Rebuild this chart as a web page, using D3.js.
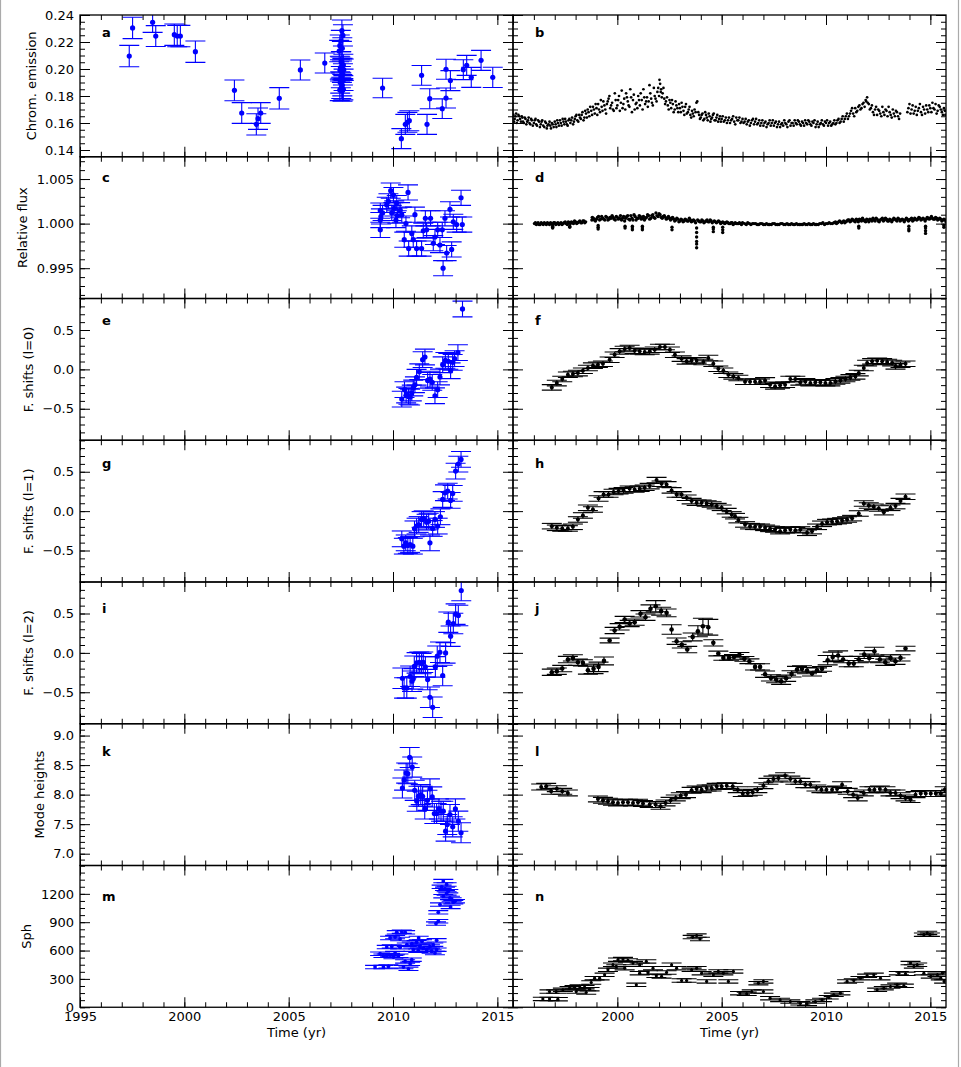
<!DOCTYPE html>
<html>
<head>
<meta charset="utf-8">
<script src="https://cdn.jsdelivr.net/npm/d3@7"></script>
<style>
  body { margin: 0; background: #fff; }
  svg { display: block; font-family: "DejaVu Sans", sans-serif; }
</style>
</head>
<body>
<svg id="chart" width="961" height="1067"></svg>
<script>
// ---- data ----
// left column (blue): [year, value, error]
var chromA = [
  [1997.36,0.2096,0.0079],[1997.52,0.2304,0.0079],[1998.48,0.2346,0.0075],[1998.63,0.2244,0.0077],
  [1999.52,0.2254,0.0079],[1999.66,0.2244,0.0079],[1999.81,0.2244,0.0079],[2000.53,0.2128,0.0079],
  [2002.40,0.1842,0.0077],[2002.75,0.1674,0.0077],[2003.45,0.1590,0.0079],[2003.53,0.1632,0.0079],
  [2003.66,0.1674,0.0077],[2004.55,0.1783,0.0079],[2005.56,0.1993,0.0074],[2006.73,0.2044,0.0074],
  [2007.55,0.2284,0.0079],[2007.60,0.2249,0.0079],[2007.50,0.2207,0.0079],[2007.45,0.2173,0.0079],
  [2007.57,0.2153,0.0079],[2007.42,0.2133,0.0079],[2007.52,0.2050,0.0079],[2007.62,0.2030,0.0079],
  [2007.48,0.2010,0.0079],[2007.58,0.2000,0.0079],[2007.64,0.1995,0.0079],[2007.46,0.1990,0.0079],
  [2007.55,0.1980,0.0079],[2007.60,0.1960,0.0079],[2007.50,0.1940,0.0079],[2007.63,0.1920,0.0079],
  [2007.47,0.1900,0.0079],[2007.57,0.1880,0.0079],[2007.52,0.1860,0.0079],[2007.62,0.1850,0.0079],
  [2007.45,0.1845,0.0079],[2007.58,0.1840,0.0079],
  [2009.50,0.1859,0.0072],[2010.40,0.1484,0.0074],[2010.59,0.1590,0.0074],[2010.69,0.1605,0.0074],
  [2010.78,0.1617,0.0074],[2011.37,0.1953,0.0073],[2011.63,0.1590,0.0074],[2011.76,0.1780,0.0074],
  [2012.36,0.1706,0.0073],[2012.54,0.1998,0.0074],[2012.54,0.1785,0.0074],[2012.75,0.1914,0.0074],
  [2013.37,0.1995,0.0074],[2013.53,0.2027,0.0074],[2013.75,0.1938,0.0074],[2014.22,0.2064,0.0074],
  [2014.78,0.1938,0.0075]
]

var fluxCErr = 0.00085
var fluxC = [
  [2009.39,1.00146],[2009.39,1.0004],[2009.39,0.9993],[2009.42,1.0008],[2009.50,1.0012],
  [2009.70,1.0021],[2009.78,1.0025],[2009.89,1.0037],[2009.94,1.0012],[2010.02,1.0032],
  [2010.06,1.0017],[2010.14,1.0004],[2010.18,1.0023],[2010.21,1.0009],[2010.34,1.0015],
  [2010.42,1.0010],[2010.54,0.9982],[2010.62,1.0000],[2010.72,1.0035],[2010.75,0.9972],
  [2010.90,0.9989],[2010.97,0.9982],[2011.05,1.0010],[2011.13,0.9972],[2011.37,0.9972],
  [2011.45,0.9992],[2011.55,1.0006],[2011.61,0.9993],[2011.80,1.0006],[2011.93,0.9978],
  [2012.01,0.9985],[2012.14,0.9993],[2012.25,0.9976],[2012.36,0.9993],[2012.40,0.9950],
  [2012.49,1.0006],[2012.57,0.9967],[2012.73,1.0016],[2012.81,0.9971],[2012.89,1.0002],
  [2013.05,0.9999],[2013.26,1.0029],[2013.32,0.9999]
]

var shift0EErr = 0.1
var shift0E = [
  [2013.33,0.767],[2010.42,-0.377],[2010.55,-0.258],[2010.63,-0.326],[2010.74,-0.343],
  [2010.82,-0.352],[2010.90,-0.300],[2010.97,-0.237],[2011.05,-0.195],[2011.13,-0.100],
  [2011.26,-0.030],[2011.42,0.123],[2011.53,0.157],[2011.66,-0.140],[2011.77,-0.123],
  [2011.88,-0.165],[2012.01,-0.335],[2012.14,-0.258],[2012.25,-0.097],[2012.38,0.059],
  [2012.51,0.114],[2012.65,0.102],[2012.76,-0.017],[2012.86,0.089],[2012.95,0.136],
  [2013.11,0.212]
]

var shift1GErr = 0.1
var shift1G = [
  [2010.42,-0.352],[2010.52,-0.445],[2010.61,-0.403],[2010.71,-0.436],[2010.82,-0.424],
  [2010.95,-0.445],[2011.03,-0.225],[2011.13,-0.190],[2011.23,-0.170],[2011.37,-0.106],
  [2011.47,-0.097],[2011.61,-0.140],[2011.71,-0.127],[2011.77,-0.403],[2011.90,-0.220],
  [2012.01,-0.106],[2012.14,-0.190],[2012.27,-0.072],[2012.38,0.148],[2012.49,0.233],
  [2012.62,0.254],[2012.76,0.136],[2012.86,0.225],[2013.00,0.508],[2013.13,0.597],
  [2013.26,0.657]
]

var shift2IErr = 0.13
var shift2I = [
  [2010.45,-0.322],[2010.53,-0.445],[2010.66,-0.445],[2010.82,-0.297],[2010.91,-0.360],
  [2010.97,-0.330],[2011.02,-0.170],[2011.13,-0.127],[2011.26,-0.119],[2011.37,-0.136],
  [2011.45,-0.119],[2011.55,-0.178],[2011.66,-0.339],[2011.77,-0.564],[2011.90,-0.691],
  [2012.03,-0.178],[2012.12,-0.042],[2012.25,0.008],[2012.38,-0.288],[2012.52,0.000],
  [2012.65,0.390],[2012.76,0.212],[2012.89,0.373],[2013.00,0.492],[2013.13,0.475],
  [2013.27,0.792]
]

var heightKErr = 0.17
var heightK = [
  [2010.45,8.112],[2010.53,8.247],[2010.63,8.365],[2010.71,8.354],[2010.80,8.629],
  [2010.92,8.466],[2011.04,8.073],[2011.14,7.888],[2011.22,7.972],[2011.33,8.000],
  [2011.42,7.972],[2011.52,7.758],[2011.65,7.904],[2011.77,8.096],[2011.88,7.961],
  [2011.98,7.680],[2012.09,7.680],[2012.20,7.758],[2012.30,7.719],[2012.41,7.719],
  [2012.52,7.382],[2012.60,7.494],[2012.73,7.663],[2012.86,7.455],[2012.99,7.758],
  [2013.13,7.551],[2013.26,7.354]
]

var sphMErr = 18
var sphM = [
  [2009.14,425],[2009.54,425],[2009.78,432],[2009.38,566],[2009.54,545],[2009.70,545],
  [2009.86,552],[2010.02,531],[2010.10,573],[2010.26,545],[2009.70,637],[2009.94,644],
  [2010.34,634],[2009.86,733],[2010.10,743],[2010.34,722],[2010.18,793],[2010.42,800],
  [2010.58,793],[2010.50,425],[2010.74,407],[2010.82,460],[2010.90,503],[2010.58,485],
  [2010.66,662],[2010.90,673],[2011.13,687],[2011.29,644],[2010.97,609],[2011.21,598],
  [2011.45,627],[2011.23,733],[2011.39,697],[2011.61,609],[2011.77,644],[2011.93,662],
  [2011.85,591],[2012.01,573],[2012.09,708],[2012.09,609],[2012.06,885],[2012.17,910],
  [2012.17,1005],[2012.25,1087],[2012.41,1175],[2012.33,1274],[2012.41,1335],[2012.57,1299],
  [2012.65,1228],[2012.73,1157],[2012.81,1140],[2012.89,1112],[2012.97,1122],[2012.76,1062],
  [2012.49,1253],[2012.57,1204]
]

// right column (black): [year, value] clouds, then [year, value] binned series
var chromB = [
  [1995.02,.166],[1995.08,.163],[1995.15,.167],[1995.22,.162],[1995.30,.165],[1995.38,.161],
  [1995.45,.164],[1995.52,.160],[1995.60,.163],[1995.68,.161],[1995.75,.164],[1995.83,.159],
  [1995.90,.162],[1996.00,.160],[1996.08,.163],[1996.15,.158],[1996.25,.161],[1996.33,.159],
  [1996.40,.162],[1996.50,.157],[1996.58,.160],[1996.65,.158],[1996.75,.161],[1996.82,.156],
  [1996.90,.159],[1997.00,.161],[1997.08,.157],[1997.15,.160],[1997.25,.162],[1997.33,.158],
  [1997.42,.161],[1997.50,.163],[1997.58,.159],[1997.66,.162],[1997.75,.160],[1997.83,.164],
  [1997.92,.161],[1998.00,.165],[1998.08,.162],[1998.17,.166],[1998.25,.163],[1998.33,.168],
  [1998.42,.164],[1998.50,.167],[1998.58,.170],[1998.66,.165],[1998.75,.169],[1998.83,.172],
  [1998.92,.167],[1999.00,.171],[1999.08,.174],[1999.17,.168],[1999.25,.172],[1999.33,.176],
  [1999.42,.170],[1999.50,.174],[1999.58,.178],[1999.66,.171],[1999.75,.175],[1999.83,.169],
  [1999.92,.177],[2000.00,.173],[2000.08,.180],[2000.17,.175],[2000.25,.171],[2000.33,.178],
  [2000.42,.182],[2000.50,.176],[2000.58,.172],[2000.66,.179],[2000.75,.177],[2000.83,.170],
  [2000.92,.175],[2001.00,.180],[2001.08,.173],[2001.17,.177],[2001.25,.185],[2001.33,.174],
  [2001.42,.179],[2001.50,.176],[2001.58,.182],[2001.66,.175],[2001.75,.186],[2001.83,.178],
  [2001.92,.183],[2002.00,.180],[2002.05,.189],[2002.10,.185],[2002.17,.182],[2002.25,.178],
  [2002.33,.176],[2002.42,.173],[2002.50,.177],[2002.58,.171],[2002.66,.174],[2002.75,.170],
  [2002.83,.173],[2002.92,.168],[2003.00,.171],[2003.08,.175],[2003.17,.169],[2003.25,.172],
  [2003.33,.167],[2003.42,.170],[2003.50,.166],[2003.58,.169],[2003.66,.165],[2003.75,.168],
  [2003.83,.176],[2003.92,.166],[2004.00,.164],[2004.08,.167],[2004.17,.163],[2004.25,.166],
  [2004.33,.162],[2004.42,.165],[2004.50,.163],[2004.58,.166],[2004.66,.162],[2004.75,.164],
  [2004.83,.161],[2004.92,.165],[2005.00,.163],[2005.10,.161],[2005.20,.164],[2005.30,.162],
  [2005.40,.160],[2005.50,.163],[2005.60,.161],[2005.70,.164],[2005.80,.162],[2005.90,.160],
  [2006.00,.163],[2006.10,.161],[2006.20,.159],[2006.30,.162],[2006.40,.160],[2006.50,.163],
  [2006.60,.161],[2006.70,.159],[2006.80,.162],[2006.90,.160],[2007.00,.158],[2007.10,.161],
  [2007.20,.159],[2007.30,.162],[2007.40,.160],[2007.50,.158],[2007.60,.161],[2007.70,.159],
  [2007.80,.157],[2007.90,.160],[2008.00,.162],[2008.10,.159],[2008.20,.161],[2008.30,.158],
  [2008.40,.160],[2008.50,.162],[2008.60,.159],[2008.70,.161],[2008.80,.158],[2008.90,.160],
  [2009.00,.162],[2009.10,.159],[2009.20,.161],[2009.30,.158],[2009.40,.160],[2009.50,.157],
  [2009.60,.161],[2009.70,.159],[2009.80,.162],[2009.90,.158],[2010.00,.160],[2010.10,.158],
  [2010.20,.161],[2010.30,.159],[2010.40,.162],[2010.50,.160],[2010.60,.163],[2010.70,.161],
  [2010.80,.165],[2010.90,.163],[2011.00,.167],[2011.10,.165],[2011.20,.169],[2011.30,.167],
  [2011.40,.171],[2011.50,.169],[2011.60,.173],[2011.70,.171],[2011.80,.175],[2011.90,.177],
  [2011.97,.179],[2012.05,.174],[2012.15,.171],[2012.25,.168],[2012.35,.170],[2012.45,.166],
  [2012.55,.169],[2012.65,.165],[2012.75,.168],[2012.85,.170],[2012.95,.165],[2013.05,.168],
  [2013.15,.164],[2013.25,.167],[2013.35,.169],[2013.45,.165],[2013.55,.167],[2013.95,.171],
  [2014.05,.167],[2014.15,.173],[2014.25,.169],[2014.35,.166],[2014.45,.171],[2014.55,.168],
  [2014.65,.172],[2014.75,.167],[2014.85,.170],[2014.95,.173],[2015.05,.168],[2015.15,.171],
  [2015.25,.174],[2015.35,.169],[2015.45,.172],[2015.55,.168],[2015.65,.171],[2015.72,.166],
  [2015.78,.163]
]
var chromB2 = [
  [1995.05,.161],[1995.12,.165],[1995.18,.160],[1995.26,.166],[1995.34,.163],[1995.42,.165],
  [1995.48,.161],[1995.56,.164],[1995.64,.159],[1995.72,.162],[1995.79,.160],[1995.87,.163],
  [1995.95,.158],[1996.04,.162],[1996.11,.159],[1996.20,.162],[1996.29,.157],[1996.37,.161],
  [1996.45,.158],[1996.54,.161],[1996.62,.156],[1996.70,.159],[1996.79,.158],[1996.86,.160],
  [1996.95,.157],[1997.04,.159],[1997.12,.162],[1997.20,.158],[1997.29,.160],[1997.38,.163],
  [1997.46,.159],[1997.54,.161],[1997.62,.158],[1997.70,.163],[1997.79,.162],[1997.88,.159],
  [1997.96,.163],[1998.04,.166],[1998.13,.161],[1998.21,.164],[1998.29,.166],[1998.38,.162],
  [1998.46,.169],[1998.54,.164],[1998.62,.168],[1998.70,.172],[1998.79,.166],[1998.88,.170],
  [1998.96,.174],[1999.04,.166],[1999.12,.170],[1999.21,.177],[1999.29,.169],[1999.38,.173],
  [1999.46,.167],[1999.54,.176],[1999.62,.180],[1999.70,.173],[1999.79,.170],[1999.88,.182],
  [1999.96,.171],[2000.04,.177],[2000.12,.169],[2000.21,.184],[2000.29,.174],[2000.38,.170],
  [2000.46,.179],[2000.54,.173],[2000.62,.185],[2000.70,.168],[2000.79,.181],[2000.88,.174],
  [2000.96,.171],[2001.04,.177],[2001.12,.182],[2001.21,.170],[2001.29,.179],[2001.38,.176],
  [2001.46,.172],[2001.54,.188],[2001.62,.178],[2001.70,.173],[2001.79,.180],[2001.88,.176],
  [2001.96,.186],[2002.02,.192],[2002.08,.183],[2002.13,.179],[2002.21,.186],[2002.29,.174],
  [2002.38,.179],[2002.46,.170],[2002.54,.175],[2002.62,.177],[2002.70,.168],[2002.79,.176],
  [2002.88,.171],[2002.96,.174],[2003.04,.168],[2003.12,.172],[2003.21,.166],[2003.29,.174],
  [2003.38,.168],[2003.46,.172],[2003.54,.164],[2003.62,.167],[2003.70,.170],[2003.79,.175],
  [2003.88,.168],[2003.96,.163],[2004.04,.166],[2004.12,.162],[2004.21,.168],[2004.29,.164],
  [2004.38,.167],[2004.46,.161],[2004.54,.164],[2004.62,.167],[2004.71,.162],[2004.79,.166],
  [2004.88,.163],[2004.96,.161],[2005.05,.165],[2005.15,.162],[2005.25,.160],[2005.35,.164],
  [2005.45,.162],[2005.55,.165],[2005.65,.159],[2005.75,.162],[2005.85,.164],[2005.95,.161],
  [2006.05,.160],[2006.15,.163],[2006.25,.161],[2006.35,.158],[2006.45,.162],[2006.55,.159],
  [2006.65,.163],[2006.75,.160],[2006.85,.158],[2006.95,.162],[2007.05,.160],[2007.15,.157],
  [2007.25,.160],[2007.35,.158],[2007.45,.162],[2007.55,.160],[2007.65,.157],[2007.75,.161],
  [2007.85,.159],[2007.95,.158],[2008.05,.160],[2008.15,.157],[2008.25,.162],[2008.35,.160],
  [2008.45,.158],[2008.55,.160],[2008.65,.162],[2008.75,.159],[2008.85,.161],[2008.95,.158],
  [2009.05,.160],[2009.15,.162],[2009.25,.159],[2009.35,.161],[2009.45,.162],[2009.55,.159],
  [2009.65,.157],[2009.75,.160],[2009.85,.159],[2009.95,.161],[2010.05,.162],[2010.15,.160],
  [2010.25,.158],[2010.35,.160],[2010.45,.159],[2010.55,.162],[2010.65,.160],[2010.75,.163],
  [2010.85,.161],[2010.95,.165],[2011.05,.163],[2011.15,.167],[2011.25,.171],[2011.35,.165],
  [2011.45,.168],[2011.55,.172],[2011.65,.170],[2011.75,.174],[2011.85,.172],[2011.93,.176],
  [2012.00,.175],[2012.10,.170],[2012.20,.173],[2012.30,.166],[2012.40,.172],[2012.50,.170],
  [2012.60,.167],[2012.70,.172],[2012.80,.166],[2012.90,.169],[2013.00,.172],[2013.10,.166],
  [2013.20,.170],[2013.30,.165],[2013.40,.168],[2013.50,.163],[2013.90,.168],[2014.00,.174],
  [2014.10,.170],[2014.20,.167],[2014.30,.172],[2014.40,.169],[2014.50,.174],[2014.60,.166],
  [2014.70,.170],[2014.80,.173],[2014.90,.168],[2015.00,.171],[2015.10,.175],[2015.20,.170],
  [2015.30,.167],[2015.40,.173],[2015.50,.170],[2015.60,.166],[2015.70,.169]
]

var fluxD = [
  [1996.03,1.0000],[1996.12,0.9999],[1996.20,1.0001],[1996.30,0.9999],[1996.40,1.0000],[1996.50,1.0001],
  [1996.60,0.9999],[1996.70,1.0000],[1996.80,1.0001],[1996.90,0.9999],[1996.90,0.9996],[1997.00,1.0001],
  [1997.10,1.0000],[1997.20,0.9999],[1997.30,1.0001],[1997.40,1.0000],[1997.50,1.0002],[1997.60,0.9999],
  [1997.70,1.0001],[1997.72,0.9996],[1997.80,1.0002],[1997.90,1.0000],[1998.00,1.0002],[1998.10,1.0001],
  [1998.20,1.0003],[1998.30,1.0001],[1998.40,1.0003],[1998.48,1.0002],
  [1998.78,1.0004],[1998.85,1.0006],[1998.95,1.0003],[1999.05,1.0007],[1999.08,0.9996],[1999.15,1.0004],
  [1999.25,1.0008],[1999.35,1.0005],[1999.45,1.0008],[1999.55,1.0004],[1999.65,1.0007],[1999.75,1.0009],
  [1999.85,1.0005],[1999.95,1.0008],[2000.05,1.0005],[2000.15,1.0009],[2000.25,1.0006],[2000.35,1.0003],
  [2000.37,0.9995],[2000.45,1.0008],[2000.55,1.0005],[2000.65,1.0009],[2000.72,0.9993],[2000.75,1.0004],
  [2000.85,1.0008],[2000.95,1.0006],[2001.05,1.0009],[2001.15,1.0005],[2001.20,0.9993],[2001.25,1.0008],
  [2001.35,1.0006],[2001.45,1.0010],[2001.55,1.0005],[2001.65,1.0009],[2001.75,1.0007],[2001.85,1.0012],
  [2001.95,1.0008],[2002.05,1.0010],[2002.15,1.0006],[2002.25,1.0009],[2002.35,1.0005],[2002.45,1.0008],
  [2002.55,1.0004],[2002.62,0.9993],[2002.65,1.0007],[2002.75,1.0003],[2002.85,1.0006],[2002.95,1.0002],
  [2003.05,1.0005],[2003.15,1.0002],[2003.25,1.0005],[2003.35,1.0003],[2003.45,1.0006],[2003.55,1.0002],
  [2003.65,1.0004],[2003.80,0.9990],[2003.80,0.9980],[2003.80,0.9973],[2003.80,0.9985],[2003.75,1.0001],
  [2003.85,1.0004],[2003.95,1.0002],[2004.05,1.0004],[2004.15,1.0001],[2004.25,1.0003],[2004.35,1.0002],
  [2004.45,1.0004],[2004.55,1.0001],[2004.60,0.9991],[2004.65,1.0003],[2004.75,1.0001],[2004.85,1.0003],
  [2004.95,1.0000],[2005.05,1.0002],[2005.05,0.9990],[2005.15,1.0000],[2005.25,1.0002],[2005.35,1.0000],
  [2005.45,1.0001],[2005.55,0.9999],[2005.65,1.0001],[2005.75,1.0000],[2005.85,1.0001],[2005.95,0.9999],
  [2006.10,1.0000],[2006.25,1.0001],[2006.40,0.9999],[2006.55,1.0000],[2006.70,0.9999],[2006.85,1.0000],
  [2007.00,0.9999],[2007.15,1.0000],[2007.30,0.9999],[2007.45,1.0000],[2007.60,0.9999],[2007.75,0.9999],
  [2007.90,1.0000],[2008.05,0.9999],[2008.20,0.9999],[2008.35,1.0000],[2008.50,0.9999],[2008.65,0.9999],
  [2008.80,0.9999],[2008.95,1.0000],[2009.10,0.9999],[2009.25,0.9999],[2009.40,1.0000],[2009.55,0.9999],
  [2009.70,1.0000],[2009.85,1.0001],[2010.00,1.0000],[2010.15,1.0001],[2010.30,1.0000],[2010.45,1.0002],
  [2010.55,1.0001],[2010.65,1.0003],[2010.75,1.0001],[2010.85,1.0003],[2010.95,1.0002],[2011.05,1.0004],
  [2011.15,1.0002],[2011.25,1.0005],[2011.35,1.0003],[2011.45,1.0005],[2011.55,1.0002],[2011.57,0.9995],
  [2011.65,1.0004],[2011.75,1.0006],[2011.85,1.0003],[2011.95,1.0005],[2012.05,1.0002],[2012.15,1.0004],
  [2012.25,1.0006],[2012.35,1.0003],[2012.45,1.0005],[2012.55,1.0002],[2012.65,1.0005],[2012.75,1.0003],
  [2012.85,1.0006],[2012.95,1.0003],[2013.05,1.0005],[2013.15,1.0002],[2013.25,1.0006],[2013.35,1.0004],
  [2013.45,1.0006],[2013.55,1.0003],[2013.65,1.0005],[2013.75,1.0002],[2013.85,1.0006],[2013.95,1.0003],
  [2013.97,0.9994],[2014.05,1.0005],[2014.15,1.0003],[2014.25,1.0006],[2014.35,1.0004],[2014.45,1.0007],
  [2014.55,1.0004],[2014.65,1.0006],[2014.75,1.0003],[2014.77,0.9989],[2014.77,0.9992],[2014.85,1.0007],
  [2014.95,1.0005],[2015.05,1.0008],[2015.15,1.0005],[2015.25,1.0007],[2015.35,1.0004],[2015.45,1.0006],
  [2015.55,1.0003],[2015.65,1.0005],[2015.65,0.9996],[2015.75,1.0002]
]
var fluxD2 = [
  [1996.07,1.0001],[1996.16,1.0000],[1996.25,0.9999],[1996.35,1.0001],[1996.45,0.9999],[1996.55,1.0000],
  [1996.65,1.0001],[1996.75,0.9999],[1996.85,1.0000],[1996.95,1.0001],[1997.05,0.9999],[1997.15,1.0001],
  [1997.25,1.0000],[1997.35,0.9999],[1997.45,1.0001],[1997.55,1.0000],[1997.65,1.0002],[1997.75,1.0000],
  [1997.85,1.0001],[1997.95,1.0003],[1998.05,1.0000],[1998.15,1.0002],[1998.25,1.0001],[1998.35,1.0003],
  [1998.44,1.0001],
  [1998.80,1.0007],[1998.90,1.0004],[1999.00,1.0005],[1999.10,1.0008],[1999.20,1.0005],[1999.30,1.0006],
  [1999.40,1.0004],[1999.50,1.0007],[1999.60,1.0005],[1999.70,1.0006],[1999.80,1.0007],[1999.90,1.0004],
  [2000.00,1.0007],[2000.10,1.0006],[2000.20,1.0004],[2000.30,1.0008],[2000.40,1.0006],[2000.50,1.0009],
  [2000.60,1.0004],[2000.70,1.0006],[2000.80,1.0010],[2000.90,1.0004],[2001.00,1.0006],[2001.10,1.0008],
  [2001.20,1.0006],[2001.30,1.0004],[2001.40,1.0007],[2001.50,1.0009],[2001.60,1.0006],[2001.70,1.0010],
  [2001.80,1.0006],[2001.90,1.0009],[2002.00,1.0011],[2002.10,1.0007],[2002.20,1.0008],[2002.30,1.0007],
  [2002.40,1.0006],[2002.50,1.0006],[2002.60,1.0006],[2002.70,1.0005],[2002.80,1.0004],[2002.90,1.0005],
  [2003.00,1.0003],[2003.10,1.0004],[2003.20,1.0003],[2003.30,1.0004],[2003.40,1.0003],[2003.50,1.0004],
  [2003.60,1.0003],[2003.70,1.0003],[2003.90,1.0003],[2004.00,1.0002],[2004.10,1.0003],[2004.20,1.0002],
  [2004.30,1.0004],[2004.40,1.0002],[2004.50,1.0003],[2004.70,1.0002],[2004.80,1.0002],[2004.90,1.0002],
  [2005.00,1.0001],[2005.10,1.0001],[2005.20,1.0001],[2005.30,1.0001],[2005.40,1.0000],[2005.50,1.0001],
  [2005.60,1.0000],[2005.70,1.0000],[2005.80,1.0000],[2005.90,1.0000],[2006.00,1.0001],[2006.18,0.9999],
  [2006.33,1.0000],[2006.48,1.0000],[2006.63,1.0000],[2006.78,0.9999],[2006.93,1.0000],[2007.08,0.9999],
  [2007.23,0.9999],[2007.38,0.9999],[2007.53,1.0000],[2007.68,0.9999],[2007.83,1.0000],[2007.98,0.9999],
  [2008.13,1.0000],[2008.28,0.9999],[2008.43,0.9999],[2008.58,1.0000],[2008.73,0.9999],[2008.88,0.9999],
  [2009.03,0.9999],[2009.18,1.0000],[2009.33,0.9999],[2009.48,0.9999],[2009.63,0.9999],[2009.78,1.0000],
  [2009.93,0.9999],[2010.08,1.0000],[2010.23,1.0000],[2010.38,1.0001],[2010.50,1.0000],[2010.60,1.0002],
  [2010.70,1.0002],[2010.80,1.0002],[2010.90,1.0001],[2011.00,1.0003],[2011.10,1.0004],[2011.20,1.0003],
  [2011.30,1.0004],[2011.40,1.0002],[2011.50,1.0004],[2011.60,1.0005],[2011.70,1.0003],[2011.80,1.0004],
  [2011.90,1.0002],[2012.00,1.0004],[2012.10,1.0005],[2012.20,1.0003],[2012.30,1.0004],[2012.40,1.0006],
  [2012.50,1.0003],[2012.60,1.0004],[2012.70,1.0006],[2012.80,1.0004],[2012.90,1.0005],[2013.00,1.0003],
  [2013.10,1.0004],[2013.20,1.0004],[2013.30,1.0005],[2013.40,1.0003],[2013.50,1.0005],[2013.60,1.0004],
  [2013.70,1.0004],[2013.80,1.0004],[2013.90,1.0005],[2014.00,1.0004],[2014.10,1.0006],[2014.20,1.0004],
  [2014.30,1.0005],[2014.40,1.0005],[2014.50,1.0006],[2014.60,1.0005],[2014.70,1.0005],[2014.80,1.0005],
  [2014.90,1.0006],[2015.00,1.0006],[2015.10,1.0006],[2015.20,1.0005],[2015.30,1.0006],[2015.40,1.0005],
  [2015.50,1.0005],[2015.60,1.0004],[2015.70,1.0004],
  // short dips below the band
  [1996.90,0.9997],[1996.90,0.9995],[1997.72,0.9997],[1999.08,0.9998],[1999.08,0.9994],[2000.37,0.9997],
  [2000.72,0.9997],[2000.72,0.9995],[2001.20,0.9997],[2001.20,0.9995],[2002.62,0.9996],[2003.80,0.9995],
  [2003.80,0.9977],[2004.60,0.9994],[2004.60,0.9996],[2005.05,0.9993],[2005.05,0.9996],[2011.57,0.9997],
  [2013.97,0.9997],[2013.97,0.9992],[2014.77,0.9995],[2014.77,0.9997],[2015.65,0.9998]
]

var shift0FErr = 0.035
var shift0F = [
  [1996.86,-0.229],[1997.10,-0.174],[1997.36,-0.123],[1997.63,-0.068],[1997.87,-0.059],[1998.11,-0.047],
  [1998.35,-0.017],[1998.59,0.017],[1998.83,0.047],[1999.07,0.059],[1999.31,0.072],[1999.63,0.123],
  [1999.87,0.186],[2000.11,0.229],[2000.35,0.258],[2000.59,0.271],[2000.83,0.237],[2001.07,0.229],
  [2001.31,0.220],[2001.55,0.229],[2001.79,0.250],[2002.04,0.284],[2002.28,0.284],[2002.52,0.250],
  [2002.76,0.186],[2003.08,0.136],[2003.32,0.102],[2003.56,0.114],[2003.80,0.114],[2004.12,0.093],
  [2004.36,0.144],[2004.60,0.072],[2004.84,0.008],[2005.08,-0.017],[2005.32,-0.068],[2005.56,-0.089],
  [2005.80,-0.110],[2006.12,-0.157],[2006.36,-0.157],[2006.60,-0.157],[2006.84,-0.157],[2007.08,-0.140],
  [2007.32,-0.195],[2007.56,-0.216],[2007.80,-0.203],[2008.04,-0.195],[2008.29,-0.123],[2008.53,-0.123],
  [2008.77,-0.165],[2009.01,-0.153],[2009.25,-0.174],[2009.49,-0.165],[2009.73,-0.165],[2009.97,-0.174],
  [2010.21,-0.174],[2010.45,-0.153],[2010.69,-0.140],[2010.93,-0.123],[2011.17,-0.102],[2011.41,-0.089],
  [2011.57,-0.047],[2011.81,0.017],[2011.97,0.080],[2012.21,0.102],[2012.45,0.110],[2012.69,0.102],
  [2012.93,0.093],[2013.17,0.080],[2013.33,0.038],[2013.57,0.059],[2013.81,0.072]
]

var shift1HErr = 0.035
var shift1H = [
  [1996.86,-0.191],[1997.10,-0.212],[1997.36,-0.220],[1997.63,-0.220],[1997.87,-0.199],[1998.11,-0.106],
  [1998.35,-0.055],[1998.59,0.042],[1998.83,0.021],[1999.10,0.161],[1999.34,0.212],[1999.58,0.212],
  [1999.82,0.242],[2000.06,0.254],[2000.30,0.263],[2000.59,0.284],[2000.83,0.275],[2001.07,0.284],
  [2001.31,0.297],[2001.55,0.318],[2001.88,0.394],[2002.12,0.347],[2002.36,0.339],[2002.60,0.263],
  [2002.84,0.212],[2003.08,0.212],[2003.32,0.169],[2003.56,0.127],[2003.80,0.106],[2004.04,0.106],
  [2004.28,0.097],[2004.52,0.085],[2004.76,0.064],[2005.00,0.042],[2005.24,0.000],[2005.48,-0.042],
  [2005.64,-0.064],[2005.80,-0.114],[2006.12,-0.169],[2006.36,-0.191],[2006.60,-0.199],[2006.84,-0.199],
  [2007.08,-0.212],[2007.32,-0.225],[2007.56,-0.233],[2007.80,-0.254],[2008.04,-0.242],[2008.29,-0.233],
  [2008.53,-0.242],[2008.77,-0.233],[2009.09,-0.275],[2009.33,-0.254],[2009.57,-0.199],[2009.81,-0.161],
  [2010.05,-0.140],[2010.29,-0.136],[2010.53,-0.127],[2010.77,-0.119],[2011.01,-0.106],[2011.25,-0.089],
  [2011.57,-0.030],[2011.81,0.097],[2012.05,0.072],[2012.29,0.055],[2012.53,0.034],[2012.77,-0.013],
  [2013.09,0.042],[2013.33,0.064],[2013.57,0.127],[2013.81,0.182]
]

var shift2J = [
  [1996.86,-0.246,0.04],[1997.10,-0.233,0.04],[1997.36,-0.199,0.04],[1997.63,-0.085,0.04],[1997.87,-0.064,0.04],
  [1998.11,-0.119,0.04],[1998.35,-0.127,0.04],[1998.59,-0.220,0.05],[1998.86,-0.203,0.06],[1999.10,-0.178,0.06],
  [1999.36,-0.102,0.05],[1999.63,0.157,0.03],[1999.87,0.284,0.04],[2000.11,0.331,0.04],[2000.35,0.424,0.04],
  [2000.59,0.373,0.04],[2000.83,0.390,0.04],[2001.11,0.496,0.04],[2001.35,0.453,0.04],[2001.59,0.559,0.05],
  [2001.84,0.593,0.07],[2002.10,0.530,0.05],[2002.36,0.508,0.05],[2002.60,0.297,0.06],[2002.84,0.148,0.04],
  [2003.09,0.102,0.04],[2003.35,0.042,0.04],[2003.61,0.203,0.05],[2003.86,0.275,0.07],[2004.10,0.339,0.1],
  [2004.36,0.326,0.1],[2004.60,0.127,0.04],[2004.84,-0.008,0.03],[2005.08,-0.064,0.03],[2005.35,-0.064,0.03],
  [2005.59,-0.051,0.03],[2005.85,-0.025,0.03],[2006.09,-0.076,0.03],[2006.33,-0.106,0.03],[2006.60,-0.178,0.04],
  [2006.84,-0.178,0.04],[2007.08,-0.271,0.04],[2007.36,-0.318,0.04],[2007.61,-0.339,0.04],[2007.85,-0.360,0.04],
  [2008.09,-0.322,0.04],[2008.35,-0.267,0.04],[2008.61,-0.212,0.04],[2008.85,-0.203,0.04],[2009.09,-0.225,0.04],
  [2009.33,-0.263,0.03],[2009.57,-0.220,0.03],[2009.81,-0.203,0.03],[2010.08,-0.093,0.06],[2010.32,-0.051,0.06],
  [2010.58,-0.034,0.06],[2010.82,-0.085,0.04],[2011.09,-0.136,0.04],[2011.33,-0.136,0.04],[2011.57,-0.085,0.04],
  [2011.83,-0.021,0.05],[2012.07,-0.064,0.05],[2012.32,0.021,0.05],[2012.58,-0.085,0.04],[2012.84,-0.119,0.04],
  [2013.09,-0.064,0.04],[2013.33,-0.106,0.04],[2013.57,-0.064,0.04],[2013.81,0.055,0.03]
]

var heightLErr = 0.05
var heightL = [
  [1996.35,8.129],[1996.59,8.140],[1996.83,8.056],[1997.10,8.101],[1997.36,8.056],[1997.63,8.028],
  [1999.07,7.927],[1999.31,7.904],[1999.55,7.888],[1999.79,7.871],[2000.03,7.860],[2000.27,7.871],
  [2000.51,7.871],[2000.75,7.860],[2000.99,7.871],[2001.23,7.848],[2001.55,7.831],[2001.83,7.831],
  [2002.07,7.803],[2002.31,7.860],[2002.55,7.904],[2002.80,7.944],[2003.04,7.983],[2003.29,8.000],
  [2003.56,8.073],[2003.80,8.096],[2004.04,8.084],[2004.28,8.112],[2004.52,8.112],[2004.76,8.140],
  [2005.00,8.140],[2005.24,8.152],[2005.53,8.140],[2005.77,8.084],[2006.01,8.017],[2006.25,8.028],
  [2006.49,8.039],[2006.71,8.084],[2007.00,8.152],[2007.24,8.225],[2007.48,8.264],[2007.72,8.281],
  [2008.04,8.320],[2008.29,8.264],[2008.53,8.225],[2008.77,8.225],[2009.01,8.169],[2009.25,8.169],
  [2009.54,8.112],[2009.78,8.084],[2010.02,8.084],[2010.29,8.084],[2010.53,8.096],[2010.77,8.169],
  [2011.04,8.056],[2011.30,8.000],[2011.52,7.944],[2011.81,8.028],[2012.08,8.084],[2012.32,8.084],
  [2012.58,8.096],[2012.85,8.084],[2013.09,8.028],[2013.33,8.028],[2013.57,7.983],[2013.81,7.944],
  [2014.05,7.916],[2014.29,8.000],[2014.54,8.017],[2014.78,8.017],[2015.02,8.017],[2015.26,8.017],
  [2015.50,8.017],[2015.69,8.084]
]

var sphNErr = 18
var sphN = [
  [1996.43,88],[1996.75,88],[1997.15,85],[1996.75,166],[1997.07,166],[1997.39,184],[1997.71,202],
  [1997.95,212],[1998.19,219],[1998.43,212],[1998.67,191],[1998.03,166],[1998.51,156],[1998.75,262],
  [1998.91,308],[1999.15,308],[1999.39,343],[1999.55,396],[1999.79,450],[2000.03,503],[2000.27,510],
  [2000.51,496],[1999.95,432],[2000.35,414],[2000.75,467],[2001.07,450],[2001.39,485],[2001.71,414],
  [2000.91,237],[2001.07,361],[2001.47,368],[2001.87,333],[2002.12,326],[2002.36,368],[2002.60,450],
  [2002.84,414],[2003.08,283],[2003.32,283],[2003.56,396],[2003.80,414],[2004.04,361],[2004.28,273],
  [2004.60,343],[2004.84,379],[2005.08,361],[2005.32,273],[2005.56,379],[2005.88,149],[2006.20,142],
  [2006.44,166],[2006.76,255],[2007.00,273],[2007.00,166],[2007.32,96],[2007.80,78],[2008.29,60],
  [2008.77,42],[2009.09,35],[2009.49,60],[2009.81,78],[2010.13,106],[2010.37,131],[2010.69,149],
  [2011.01,273],[2011.33,283],[2011.65,308],[2011.97,333],[2012.29,343],[2012.61,308],[2012.45,184],
  [2012.77,202],[2013.09,219],[2013.41,237],[2013.73,227],[2013.49,361],[2013.81,354],[2014.05,467],
  [2014.37,450],[2014.21,432],[2014.69,768],[2014.85,786],[2014.98,768],[2014.69,361],[2015.02,326],
  [2015.34,343],[2015.50,308],[2015.66,273],[2015.58,361],[2003.61,743],[2003.80,758],[2003.96,722]
]

var xMajorTicks = [1995, 2000, 2005, 2010, 2015]
var rowTitles = ['Chrom. emission', 'Relative flux', 'F. shifts (l=0)', 'F. shifts (l=1)',
  'F. shifts (l=2)', 'Mode heights', 'Sph']
var panelLetters = [['a', 'b'], ['c', 'd'], ['e', 'f'], ['g', 'h'], ['i', 'j'], ['k', 'l'], ['m', 'n']]

// ---- layout ----
var X_DOMAIN = [1995, 2015.75]
var COLS = [80, 513]
var PW = 433
var TOP = 15
var RH = 141.75
var BLUE = '#0000ff'

// y axis setup per row; letter offsets measured from the frame top
var rows = [
  { dom: [0.135, 0.24], major: [0.14, 0.16, 0.18, 0.20, 0.22, 0.24], minor: 0.005, fmt: d3.format('.2f'), letterY: 22,
    left: { data: chromA, r: 2.6 }, right: { data: chromB.concat(chromB2), dots: true, r: 1.35 } },
  { dom: [0.9916, 1.0075], major: [0.995, 1.000, 1.005], minor: 0.001, fmt: d3.format('.3f'), letterY: 25.5,
    left: { data: fluxC, err: fluxCErr, r: 2.6 }, right: { data: fluxD.concat(fluxD2), dots: true, r: 1.7 } },
  { dom: [-0.9, 0.9], major: [-0.5, 0, 0.5], minor: 0.1, fmt: d3.format('.1f'), letterY: 26,
    left: { data: shift0E, err: shift0EErr, r: 2.6 }, right: { data: shift0F, err: shift0FErr, r: 2 } },
  { dom: [-0.9, 0.9], major: [-0.5, 0, 0.5], minor: 0.1, fmt: d3.format('.1f'), letterY: 28,
    left: { data: shift1G, err: shift1GErr, r: 2.6 }, right: { data: shift1H, err: shift1HErr, r: 2 } },
  { dom: [-0.9, 0.9], major: [-0.5, 0, 0.5], minor: 0.1, fmt: d3.format('.1f'), letterY: 31,
    left: { data: shift2I, err: shift2IErr, r: 2.6 }, right: { data: shift2J, r: 2.3 } },
  { dom: [6.8, 9.2], major: [7.0, 7.5, 8.0, 8.5, 9.0], minor: 0.1, fmt: d3.format('.1f'), letterY: 32.5,
    left: { data: heightK, err: heightKErr, r: 2.6 }, right: { data: heightL, err: heightLErr, r: 2 } },
  { dom: [0, 1500], major: [0, 300, 600, 900, 1200], minor: 75, fmt: d3.format('d'), letterY: 35.5,
    left: { data: sphM, err: sphMErr, r: 1.9 }, right: { data: sphN, err: sphNErr, r: 1.6 } }
]

var svg = d3.select('#chart')

// page border seen on both sides of the picture
svg.append('line').attr('x1', 0.5).attr('x2', 0.5).attr('y1', 0).attr('y2', 1067)
  .attr('stroke', '#aaa').attr('stroke-width', 1.2)
svg.append('line').attr('x1', 958.5).attr('x2', 958.5).attr('y1', 0).attr('y2', 1067)
  .attr('stroke', '#aaa').attr('stroke-width', 1.2)

var x = d3.scaleLinear().domain(X_DOMAIN).range([0, PW])
var xMinor = d3.range(1995, 2016)

function minorValues (dom, step) {
  var lo = Math.ceil(dom[0] / step - 1e-6)
  var hi = Math.floor(dom[1] / step + 1e-6)
  return d3.range(lo, hi + 1).map(function (i) { return +(i * step).toFixed(6) })
}

function styleAxis (sel) {
  sel.select('.domain').remove()
  sel.selectAll('line').attr('stroke', '#000').attr('stroke-width', 1)
  sel.selectAll('text').attr('font-size', 13).attr('font-family', '"DejaVu Sans", sans-serif').attr('fill', '#000')
  sel.attr('font-size', null).attr('font-family', null)
}

function drawPanel (ri, side) {
  var row = rows[ri]
  var spec = side === 0 ? row.left : row.right
  var isBottom = ri === rows.length - 1
  var g = svg.append('g').attr('transform', 'translate(' + COLS[side] + ',' + (TOP + ri * RH) + ')')
  var y = d3.scaleLinear().domain(row.dom).range([RH, 0])
  var color = side === 0 ? BLUE : '#000'

  var clipId = 'clip-' + ri + '-' + side
  g.append('clipPath').attr('id', clipId)
    .append('rect').attr('width', PW).attr('height', RH)
  var plot = g.append('g').attr('clip-path', 'url(#' + clipId + ')')

  if (!spec.dots) {
    var errOf = function (d) { return d.length > 2 ? d[2] : spec.err }
    var bars = plot.selectAll('g.bar').data(spec.data).enter().append('g').attr('class', 'bar')
      .attr('stroke', color).attr('stroke-width', 1.1)
    bars.append('line')
      .attr('x1', function (d) { return x(d[0]) }).attr('x2', function (d) { return x(d[0]) })
      .attr('y1', function (d) { return y(d[1] - errOf(d)) })
      .attr('y2', function (d) { return y(d[1] + errOf(d)) })
    // caps
    bars.append('line')
      .attr('x1', function (d) { return x(d[0]) - 10 }).attr('x2', function (d) { return x(d[0]) + 10 })
      .attr('y1', function (d) { return y(d[1] - errOf(d)) })
      .attr('y2', function (d) { return y(d[1] - errOf(d)) })
    bars.append('line')
      .attr('x1', function (d) { return x(d[0]) - 10 }).attr('x2', function (d) { return x(d[0]) + 10 })
      .attr('y1', function (d) { return y(d[1] + errOf(d)) })
      .attr('y2', function (d) { return y(d[1] + errOf(d)) })
  }
  plot.selectAll('circle').data(spec.data).enter().append('circle')
    .attr('cx', function (d) { return x(d[0]) })
    .attr('cy', function (d) { return y(d[1]) })
    .attr('r', spec.r).attr('fill', color)

  // ticks on all four sides, pointing inwards
  var yMinor = minorValues(row.dom, row.minor)
  var xLabel = function (d) { return (side === 1 && d === 1995) ? '' : d }

  g.append('g').attr('transform', 'translate(0,' + RH + ')')
    .call(d3.axisBottom(x).tickValues(xMinor).tickSize(-5).tickFormat(''))
    .call(styleAxis)
  g.append('g').attr('transform', 'translate(0,' + RH + ')')
    .call(d3.axisBottom(x).tickValues(xMajorTicks).tickSize(-10).tickPadding(5)
      .tickFormat(isBottom ? xLabel : ''))
    .call(styleAxis)
  g.append('g')
    .call(d3.axisTop(x).tickValues(xMinor).tickSize(-5).tickFormat(''))
    .call(styleAxis)
  g.append('g')
    .call(d3.axisTop(x).tickValues(xMajorTicks).tickSize(-10).tickFormat(''))
    .call(styleAxis)

  g.append('g')
    .call(d3.axisLeft(y).tickValues(yMinor).tickSize(-5).tickFormat(''))
    .call(styleAxis)
  var yLab = g.append('g')
    .call(d3.axisLeft(y).tickValues(row.major).tickSize(-10).tickPadding(6)
      .tickFormat(side === 0 ? row.fmt : ''))
    .call(styleAxis)
  g.append('g').attr('transform', 'translate(' + PW + ',0)')
    .call(d3.axisRight(y).tickValues(yMinor).tickSize(-5).tickFormat(''))
    .call(styleAxis)
  g.append('g').attr('transform', 'translate(' + PW + ',0)')
    .call(d3.axisRight(y).tickValues(row.major).tickSize(-10).tickFormat(''))
    .call(styleAxis)

  g.append('rect').attr('width', PW).attr('height', RH)
    .attr('fill', 'none').attr('stroke', '#000').attr('stroke-width', 1.3)

  g.append('text')
    .attr('x', 22).attr('y', row.letterY)
    .attr('font-size', 13).attr('font-weight', 'bold')
    .text(panelLetters[ri][side])

  if (side === 0) {
    // y title sits just left of the widest tick label
    var maxW = d3.max(yLab.selectAll('text').nodes(), function (n) { return n.getComputedTextLength() })
    var bx = -6 - maxW - 9.5
    g.append('text')
      .attr('transform', 'translate(' + bx + ',' + (RH / 2) + ') rotate(-90)')
      .attr('text-anchor', 'middle').attr('font-size', 13)
      .text(rowTitles[ri])
  }

  if (isBottom) {
    g.append('text')
      .attr('x', PW / 2).attr('y', RH + 29.5)
      .attr('text-anchor', 'middle').attr('font-size', 13)
      .text('Time (yr)')
  }
}

for (var ri = 0; ri < rows.length; ri++) {
  drawPanel(ri, 0)
  drawPanel(ri, 1)
}
</script>
</body>
</html>
